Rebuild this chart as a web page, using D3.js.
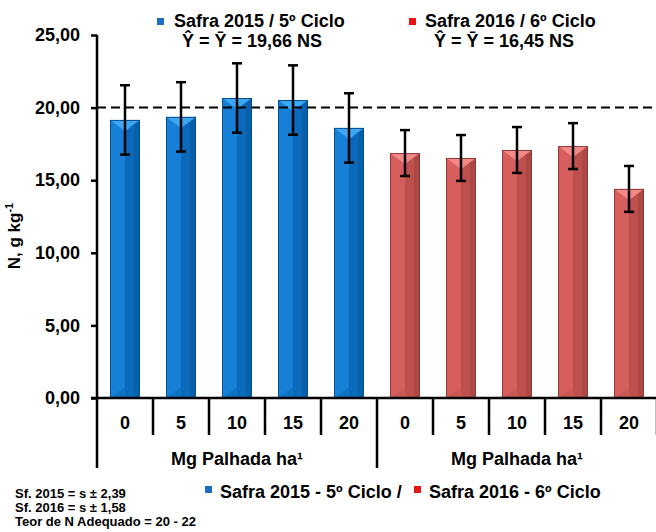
<!DOCTYPE html>
<html>
<head>
<meta charset="utf-8">
<script src="https://cdn.jsdelivr.net/npm/d3@7"></script>
<style>
  html, body { margin: 0; padding: 0; background: #fff; }
  svg { display: block; font-family: "Liberation Sans", Arial, sans-serif; font-weight: bold; }
</style>
</head>
<body>
<svg id="chart" width="656" height="532"></svg>
<script>
// Foliar N content by straw dose, two crop seasons
const categories = ["0", "5", "10", "15", "20"];
const seasons = ["2015", "2016"];
const n2015 = [19.15, 19.36, 20.66, 20.52, 18.60];
const n2016 = [16.87, 16.53, 17.08, 17.35, 14.40];
const sdValues = [2.39, 1.58];
const means = ["19,66", "16,45"];
const yTicks = [0, 5, 10, 15, 20, 25];
const adequateN = 20;
const groupLabel = "Mg Palhada ha\u00b9";

const rows = [];
seasons.forEach((s, si) => {
  const vals = si === 0 ? n2015 : n2016;
  categories.forEach((c, ci) => rows.push({ key: s + "-" + c, season: si, cat: c, value: vals[ci], sd: sdValues[si] }));
});

const svg = d3.select("#chart");
const plotLeft = 97, plotRight = 657, plotTop = 35, base = 398, axisEnd = 468;

const xCat = d3.scaleBand().domain(rows.map(d => d.key)).range([plotLeft, plotRight]).padding(0);
const x = d3.scaleBand().domain(rows.map(d => d.key)).range([plotLeft, plotRight])
  .paddingInner(26 / 56).paddingOuter(13 / 56);
const y = d3.scaleLinear().domain([0, 25]).range([base, plotTop]);

const palette = [
  { left: "#1580d6", right: "#0a69bb", edge: "#054f90", top: "#3fa6f2", bottom: "#0b6ab8", key: "#1a6fc4" },
  { left: "#d65f5d", right: "#bd4f4d", edge: "#8e3a38", top: "#f38987", bottom: "#c25452", key: "#e81414" }
];

// Bars with a bevelled look
const bars = svg.append("g").selectAll("g").data(rows).join("g");
bars.each(function (d) {
  const g = d3.select(this);
  const c = palette[d.season];
  const x0 = x(d.key), w = x.bandwidth(), y0 = y(d.value), h = base - y0;
  const mid = x0 + w / 2, bev = Math.min(11, h / 2);
  g.append("rect").attr("x", x0).attr("y", y0).attr("width", w / 2).attr("height", h).attr("fill", c.left);
  g.append("rect").attr("x", mid).attr("y", y0).attr("width", w / 2).attr("height", h).attr("fill", c.right);
  g.append("rect").attr("x", x0 + w * 0.8).attr("y", y0).attr("width", w * 0.2).attr("height", h).attr("fill", c.edge).attr("opacity", 0.35);
  g.append("path").attr("d", `M${x0},${y0}L${x0 + w},${y0}L${mid},${y0 + bev}Z`).attr("fill", c.top);
  g.append("path").attr("d", `M${x0},${base}L${x0 + w},${base}L${mid},${base - bev}Z`).attr("fill", c.bottom).attr("opacity", 0.6);
  g.append("rect").attr("x", x0 + 0.5).attr("y", y0 + 0.5).attr("width", w - 1).attr("height", h - 0.5)
    .attr("fill", "none").attr("stroke", c.edge).attr("stroke-width", 1);
});

// Adequate N reference line
svg.append("line").attr("x1", plotLeft).attr("x2", 656).attr("y1", y(adequateN)).attr("y2", y(adequateN))
  .attr("stroke", "#000").attr("stroke-width", 2).attr("stroke-dasharray", "9,5");

// Error bars
const err = svg.append("g").selectAll("g").data(rows).join("g").attr("stroke", "#000").attr("stroke-width", 2.5);
err.append("line").attr("x1", d => x(d.key) + x.bandwidth() / 2).attr("x2", d => x(d.key) + x.bandwidth() / 2)
  .attr("y1", d => y(d.value + d.sd)).attr("y2", d => y(d.value - d.sd));
err.append("line").attr("x1", d => x(d.key) + x.bandwidth() / 2 - 5).attr("x2", d => x(d.key) + x.bandwidth() / 2 + 5)
  .attr("y1", d => y(d.value + d.sd)).attr("y2", d => y(d.value + d.sd));
err.append("line").attr("x1", d => x(d.key) + x.bandwidth() / 2 - 5).attr("x2", d => x(d.key) + x.bandwidth() / 2 + 5)
  .attr("y1", d => y(d.value - d.sd)).attr("y2", d => y(d.value - d.sd));

// Y axis
const yAxis = svg.append("g").attr("transform", `translate(${plotLeft},0)`)
  .call(d3.axisLeft(y).tickValues(yTicks).tickSize(6).tickSizeOuter(0).tickPadding(11)
    .tickFormat(d => d.toFixed(2).replace(".", ",")));
yAxis.select(".domain").remove();
yAxis.selectAll(".tick line").attr("stroke", "#000").attr("stroke-width", 2.5);
yAxis.selectAll(".tick text").attr("fill", "#000").style("font-size", "18px").style("font-weight", "bold")
  .style("font-family", "'Liberation Sans', Arial, sans-serif");
svg.append("line").attr("x1", plotLeft).attr("x2", plotLeft).attr("y1", plotTop).attr("y2", axisEnd)
  .attr("stroke", "#000").attr("stroke-width", 2.5);

// Category axis
svg.append("line").attr("x1", plotLeft - 6).attr("x2", 656).attr("y1", base).attr("y2", base)
  .attr("stroke", "#000").attr("stroke-width", 2.5);
const bounds = rows.map(d => xCat(d.key)).concat([plotRight]);
svg.append("g").selectAll("line").data(bounds.slice(1)).join("line")
  .attr("x1", d => d).attr("x2", d => d).attr("y1", base).attr("y2", (d, i) => i === 4 ? axisEnd : 435)
  .attr("stroke", "#000").attr("stroke-width", 2.5);
svg.append("g").selectAll("text").data(rows).join("text")
  .attr("x", d => xCat(d.key) + xCat.bandwidth() / 2).attr("y", 429)
  .attr("text-anchor", "middle").style("font-size", "18px").text(d => d.cat);
seasons.forEach((s, si) => {
  const keys = rows.filter(d => d.season === si).map(d => d.key);
  const cx = (xCat(keys[0]) + xCat(keys[keys.length - 1]) + xCat.bandwidth()) / 2;
  svg.append("text").attr("x", cx).attr("y", 465).attr("text-anchor", "middle")
    .style("font-size", "18px").text(groupLabel);
});

// Y title
const yt = svg.append("text").attr("transform", "translate(20,236) rotate(-90)").attr("text-anchor", "middle")
  .style("font-size", "17px");
yt.append("tspan").text("N, g kg");
yt.append("tspan").attr("dy", -7).style("font-size", "11px").text("-1");

// Season headers with mean
const headers = [
  { sq: 157, tx: 174, cx: 252, title: "Safra 2015 / 5\u00ba Ciclo" },
  { sq: 409, tx: 425, cx: 504, title: "Safra 2016 / 6\u00ba Ciclo" }
];
headers.forEach((h, i) => {
  svg.append("rect").attr("x", h.sq).attr("y", 18).attr("width", 7).attr("height", 7).attr("fill", palette[i].key);
  svg.append("text").attr("x", h.tx).attr("y", 27).style("font-size", "18px").text(h.title);
  svg.append("text").attr("x", h.cx).attr("y", 47).attr("text-anchor", "middle").style("font-size", "18px")
    .text("\u0176 = \u0232 = " + means[i] + " NS");
});

// Bottom legend
const legendItems = [
  { sq: 205, tx: 220, label: "Safra 2015 - 5\u00ba Ciclo /" },
  { sq: 414, tx: 429, label: "Safra 2016 - 6\u00ba Ciclo" }
];
legendItems.forEach((l, i) => {
  svg.append("rect").attr("x", l.sq).attr("y", 486).attr("width", 7).attr("height", 7).attr("fill", palette[i].key);
  svg.append("text").attr("x", l.tx).attr("y", 498).style("font-size", "18px").text(l.label);
});

// Notes
const notes = ["Sf. 2015 = s \u00b1 2,39", "Sf. 2016 = s \u00b1 1,58", "Teor de N Adequado = 20 - 22"];
svg.append("g").selectAll("text").data(notes).join("text")
  .attr("x", 15).attr("y", (d, i) => 498 + i * 14).style("font-size", "13px").text(d => d);
</script>
</body>
</html>
